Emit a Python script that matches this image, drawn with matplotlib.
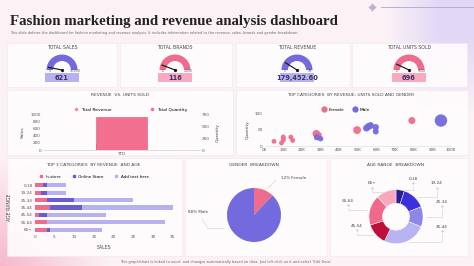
import numpy as np
import matplotlib.pyplot as plt
from matplotlib.patches import Wedge, Rectangle
from matplotlib.lines import Line2D

W, H = 474, 266

# KPI cards
kpi_titles = ["TOTAL SALES", "TOTAL BRANDS", "TOTAL REVENUE", "TOTAL UNITS SOLD"]
kpi_values = [621, 116, 179452.60, 696]
kpi_texts = ["621", "116", "179,452.60", "696"]
kpi_max = [10000, 1000, 1000000, 5000]
kpi_max_texts = ["10,000", "1,000", "1M", "5000"]

# revenue vs units sold
period = ["YTD"]
total_revenue = [179.45]   # thousands
total_quantity = [696]

# scatter: revenue (K) vs quantity
female_rev = [5, 9, 10, 10, 14, 15, 27.7, 29, 49.6, 79]
female_qty = [15, 10, 28, 19, 28, 18, 38, 34, 49, 78]
female_size = [12, 12, 13, 13, 12, 13, 30, 20, 32, 26]
male_rev = [28, 30, 54.6, 55.7, 56.8, 59.6, 59.6, 94.6]
male_qty = [27, 23, 55, 60, 63, 58, 45, 78]
male_size = [18, 15, 24, 26, 24, 20, 19, 80]

# top 3 categories by revenue and age
age_ranges = ["0-18", "19-24", "25-34", "35-44", "45-54", "55-64", "65+"]
in_store = [2, 1.5, 3, 4, 1, 3, 3]
online_store = [1, 1.5, 7, 8, 2, 0, 1]
add_text = [5, 5, 15, 23, 15, 30, 13]

# gender breakdown
gender_labels = ["12% Female", "88% Male"]
gender_share = [12, 88]

# age range breakdown
age_share = [5, 14, 12, 26, 13, 18, 12]

PINK = "#ee6d8d"
PURPLE = "#736add"
LAV = "#b6b1ef"
LPINK = "#f8aac0"
TXT = "#454545"


def px_axes(fig, x0, y0, x1, y1):
    return fig.add_axes([x0 / W, 1 - y1 / H, (x1 - x0) / W, (y1 - y0) / H])


def style_ax(ax):
    ax.set_facecolor("none")
    for s in ["top", "right", "left"]:
        ax.spines[s].set_visible(False)
    ax.spines["bottom"].set_color("#d8d8d8")
    ax.spines["bottom"].set_linewidth(0.4)
    ax.tick_params(labelsize=3, length=0, pad=1.5, colors="#555555")


fig = plt.figure(figsize=(4.74, 2.66), dpi=100)
canvas = fig.add_axes([0, 0, 1, 1])
canvas.set_xlim(0, W)
canvas.set_ylim(H, 0)
canvas.axis("off")

# background with soft gradients
yy, xx = np.mgrid[0:H, 0:W]
base = np.array([252, 242, 246]) / 255
lav = np.array([224, 216, 246]) / 255
pnk = np.array([246, 184, 206]) / 255
w_lav = np.clip((xx - 385) / 55, 0, 1) * np.clip(1 - (yy - 35) / 80, 0, 1)
w_pnk = np.clip(1 - np.hypot(xx, yy - H) / 110, 0, 1)
bg = base * (1 - w_lav[..., None]) + lav * w_lav[..., None]
bg = bg * (1 - w_pnk[..., None]) + pnk * w_pnk[..., None]
canvas.imshow(bg, extent=(0, W, H, 0), aspect="auto", zorder=0)

# title and subtitle
canvas.text(10, 21, "Fashion marketing and revenue analysis dashboard",
            family="Liberation Serif", weight="bold", fontsize=10.7,
            color="#222222", va="center")
canvas.text(10, 33, "This slide defines the dashboard for fashion marketing and revenue analysis. "
            "It includes information related to the revenue, sales, brands and gender breakdown",
            fontsize=2.5, color="#666666", va="center")
canvas.plot([372], [7], marker=(4, 1, 0), ms=5, color="#b9b2d2", zorder=2)
canvas.plot([381, 474], [7, 7], color="#b6aed4", lw=0.7, zorder=2)

# panels
panels = [(7, 43, 117, 87), (120, 43, 232, 87), (236, 43, 350, 87), (352, 43, 467, 87),
          (7, 90, 233, 155), (236, 90, 468, 155),
          (7, 158, 182, 256), (185, 158, 327, 256), (330, 158, 468, 256)]
for x0, y0, x1, y1 in panels:
    canvas.add_patch(Rectangle((x0, y0), x1 - x0, y1 - y0, facecolor="#fffcfd",
                               edgecolor="#f1e6ec", lw=0.4, alpha=0.92, zorder=1))

# gauges
gauge_cx = [62, 175, 297, 409]
gauge_col = [PURPLE, PINK, PURPLE, PINK]
box_col = [LAV, LPINK, LAV, LPINK]
for i in range(4):
    cx, cy = gauge_cx[i], 70
    canvas.text(cx, 47.5, kpi_titles[i], fontsize=3.3, color=TXT, ha="center", va="center")
    canvas.add_patch(Wedge((cx, cy), 15.5, 180, 360, width=6.5, facecolor=gauge_col[i],
                           edgecolor="none", zorder=2))
    ang = np.pi * (1 - kpi_values[i] / kpi_max[i])
    canvas.plot([cx, cx + 14 * np.cos(ang)], [cy, cy - 14 * np.sin(ang)],
                color="#111111", lw=0.8, zorder=3, solid_capstyle="round")
    canvas.plot([cx], [cy], "o", ms=1.3, color="#111111", zorder=3)
    canvas.text(cx - 12, cy + 1.5, "0", fontsize=2.2, color="#555555", ha="center", va="center")
    canvas.text(cx + 13, cy + 1.5, kpi_max_texts[i], fontsize=2.2, color="#555555",
                ha="center", va="center")
    canvas.add_patch(Rectangle((cx - 17, 73), 34, 9, facecolor=box_col[i],
                               edgecolor="none", zorder=2))
    canvas.text(cx, 77.7, kpi_texts[i], fontsize=4.8, weight="bold", color="#3a3468",
                ha="center", va="center", zorder=3)

# revenue vs units sold
canvas.text(120, 94.5, "REVENUE  VS. UNITS SOLD", fontsize=3.2, color=TXT, ha="center", va="center")
ax1 = px_axes(fig, 43, 114.7, 200, 150)
style_ax(ax1)
ax1.bar(period, total_revenue, width=0.32, color="#f58aa5", zorder=2)
ax1.set_ylim(0, 1000)
ax1.set_yticks([0, 200, 400, 600, 800, 1000])
ax1.set_xlim(-0.5, 0.5)
ax1.set_ylabel("Sales", fontsize=3.2, labelpad=4, color=TXT)
ax2 = ax1.twinx()
style_ax(ax2)
ax2.bar(period, total_quantity, width=0.32, color="#f26f90", edgecolor="#d4597a", lw=0.4, zorder=3)
ax2.set_ylim(0, 750)
ax2.set_yticks([0, 250, 500, 750])
ax2.set_ylabel("Quantity", fontsize=3.2, labelpad=4, color=TXT)
handles = [Line2D([], [], marker="o", ls="", ms=1.5, color="#f58aa5"),
           Line2D([], [], marker="o", ls="", ms=1.5, color="#f26f90")]
ax1.legend(handles, ["Total Revenue", "Total Quantity"], ncol=2, fontsize=3.2,
           frameon=False, loc="lower center", bbox_to_anchor=(0.55, 0.97),
           handletextpad=0.1, columnspacing=8)

# scatter
canvas.text(351, 94.5, "TOP CATEGORIES  BY REVENUE, UNITS SOLD AND GENDER", fontsize=3.2,
            color=TXT, ha="center", va="center")
ax3 = px_axes(fig, 264.7, 113.3, 451, 146.3)
style_ax(ax3)
ax3.scatter(female_rev, female_qty, s=female_size, color=PINK, alpha=0.95, lw=0, label="Female")
ax3.scatter(male_rev, male_qty, s=male_size, color=PURPLE, alpha=0.95, lw=0, label="Male")
ax3.set_xlim(0, 100)
ax3.set_ylim(0, 100)
ax3.set_xticks(range(0, 101, 10))
ax3.set_xticklabels([f"{v}K" for v in range(0, 101, 10)])
ax3.set_yticks([0, 50, 100])
ax3.set_ylabel("Quantity", fontsize=3.2, labelpad=4, color=TXT)
ax3.legend(ncol=2, fontsize=3.2, frameon=False, loc="lower center", bbox_to_anchor=(0.43, 0.93),
           handletextpad=0.2, columnspacing=1.2,
           handles=[Line2D([], [], marker="o", ls="", ms=3.5, color=PINK),
                    Line2D([], [], marker="o", ls="", ms=3.5, color=PURPLE)],
           labels=["Female", "Male"])

# stacked bars
canvas.text(93, 165, "TOP 3 CATEGORIES  BY REVENUE  AND AGE", fontsize=3.2, color=TXT,
            ha="center", va="center")
ax4 = px_axes(fig, 34.7, 181.6, 172.7, 233.4)
style_ax(ax4)
ax4.spines["bottom"].set_visible(False)
ypos = np.arange(len(age_ranges))
left2 = np.array(in_store)
left3 = left2 + np.array(online_store)
ax4.barh(ypos, in_store, height=0.58, color=PINK, label="In-store")
ax4.barh(ypos, online_store, left=left2, height=0.58, color="#675cd6", label="Online Store")
ax4.barh(ypos, add_text, left=left3, height=0.58, color=LAV, label="Add text here")
ax4.set_ylim(6.5, -0.5)
ax4.set_xlim(0, 35)
ax4.set_yticks(ypos)
ax4.set_yticklabels(age_ranges)
ax4.set_xticks(range(0, 36, 5))
ax4.set_xlabel("SALES", fontsize=3.3, color=TXT, labelpad=4)
ax4.set_ylabel("AGE RANGE", fontsize=3.3, color=TXT, labelpad=6)
ax4.legend(ncol=3, fontsize=3, frameon=False, loc="lower center", bbox_to_anchor=(0.42, 0.98),
           handles=[Line2D([], [], marker="s", ls="", ms=1.5, color=c) for c in [PINK, "#675cd6", LAV]],
           labels=["In-store", "Online Store", "Add text here"],
           handletextpad=0.1, columnspacing=2)

# gender pie
canvas.text(254, 165, "GENDER  BREAKDOWN", fontsize=3.2, color=TXT, ha="center", va="center")
ax5 = px_axes(fig, 254 - 33.75, 215 - 33.75, 254 + 33.75, 215 + 33.75)
wedges, _ = ax5.pie(gender_share, colors=[PINK, PURPLE], startangle=90, counterclock=False,
                    wedgeprops=dict(lw=0))
lead = dict(arrowstyle="-", color="#cfcfcf", lw=0.4)
ax5.annotate(gender_labels[0], xy=(0.42, 0.9), xytext=(1.0, 1.38), fontsize=3, color=TXT,
             va="center", ha="left",
             arrowprops=dict(**lead, connectionstyle="angle,angleA=0,angleB=45"))
ax5.annotate(gender_labels[1], xy=(-1.0, -0.5), xytext=(-1.7, 0.12), fontsize=3, color=TXT,
             va="center", ha="right",
             arrowprops=dict(**lead, connectionstyle="angle,angleA=-60,angleB=0"))

# age donut
canvas.text(396, 165, "AGE RANGE  BREAKDOWN", fontsize=3.2, color=TXT, ha="center", va="center")
ax6 = px_axes(fig, 396 - 33.75, 216.7 - 33.75, 396 + 33.75, 216.7 + 33.75)
age_cols = ["#2a1e96", "#3c30de", "#8c86e6", "#b8b4f1", "#bf103c", "#f0698b", "#f7a8be"]
wedges, _ = ax6.pie(age_share, colors=age_cols, startangle=90, counterclock=False,
                    wedgeprops=dict(width=0.5, edgecolor="white", lw=0.3))
label_pos = [(0.63, 1.40), (1.51, 1.24), (1.69, 0.56), (1.69, -0.37),
             (-1.46, -0.34), (-1.79, 0.58), (-0.9, 1.24)]
for wdg, lab, (lx, ly) in zip(wedges, age_ranges, label_pos):
    mid = np.deg2rad((wdg.theta1 + wdg.theta2) / 2)
    ax6.text(lx, ly, lab, fontsize=3, color=TXT, ha="center", va="center")
    ax6.annotate("", xy=(np.cos(mid), np.sin(mid)), xytext=(lx, ly - 0.16),
                 arrowprops=dict(**lead, connectionstyle="angle,angleA=90,angleB=0"))
    ax6.plot([lx], [ly - 0.16], "o", ms=0.6, color="#c8c8c8", clip_on=False)

canvas.text(120, 261.5, "This graph/chart is linked to excel, and changes automatically based on data. "
            "Just left click on it and select 'Edit Data'.", fontsize=2.55, color="#666666",
            va="center")

fig.savefig("out.png", dpi=100)
